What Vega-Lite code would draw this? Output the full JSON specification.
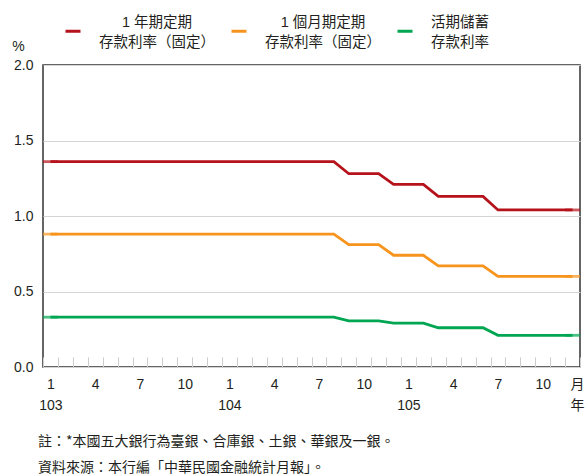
{
  "$schema": "https://vega.github.io/schema/vega-lite/v6.json",
  "width": 537,
  "height": 302,
  "autosize": "none",
  "padding": {"left": 43, "top": 65, "right": 8, "bottom": 109},
  "background": "white",
  "config": {
    "view": {"stroke": "#333333", "strokeWidth": 1.5},
    "font": "Liberation Sans, Noto Sans CJK TC"
  },
  "title": {
    "text": ["註：*本國五大銀行為臺銀、合庫銀、土銀、華銀及一銀。", "資料來源：本行編「中華民國金融統計月報」。"],
    "orient": "bottom",
    "anchor": "start",
    "frame": "group",
    "dx": -5,
    "offset": 23,
    "font": "Noto Sans CJK TC",
    "fontSize": 14,
    "fontWeight": "normal",
    "lineHeight": 26,
    "color": "#231f20"
  },
  "data": {
    "values": [
      {"m": "103/01", "a": 1.36, "b": 0.88, "c": 0.33},
      {"m": "103/02", "a": 1.36, "b": 0.88, "c": 0.33},
      {"m": "103/03", "a": 1.36, "b": 0.88, "c": 0.33},
      {"m": "103/04", "a": 1.36, "b": 0.88, "c": 0.33},
      {"m": "103/05", "a": 1.36, "b": 0.88, "c": 0.33},
      {"m": "103/06", "a": 1.36, "b": 0.88, "c": 0.33},
      {"m": "103/07", "a": 1.36, "b": 0.88, "c": 0.33},
      {"m": "103/08", "a": 1.36, "b": 0.88, "c": 0.33},
      {"m": "103/09", "a": 1.36, "b": 0.88, "c": 0.33},
      {"m": "103/10", "a": 1.36, "b": 0.88, "c": 0.33},
      {"m": "103/11", "a": 1.36, "b": 0.88, "c": 0.33},
      {"m": "103/12", "a": 1.36, "b": 0.88, "c": 0.33},
      {"m": "104/01", "a": 1.36, "b": 0.88, "c": 0.33},
      {"m": "104/02", "a": 1.36, "b": 0.88, "c": 0.33},
      {"m": "104/03", "a": 1.36, "b": 0.88, "c": 0.33},
      {"m": "104/04", "a": 1.36, "b": 0.88, "c": 0.33},
      {"m": "104/05", "a": 1.36, "b": 0.88, "c": 0.33},
      {"m": "104/06", "a": 1.36, "b": 0.88, "c": 0.33},
      {"m": "104/07", "a": 1.36, "b": 0.88, "c": 0.33},
      {"m": "104/08", "a": 1.36, "b": 0.88, "c": 0.33},
      {"m": "104/09", "a": 1.28, "b": 0.81, "c": 0.305},
      {"m": "104/10", "a": 1.28, "b": 0.81, "c": 0.305},
      {"m": "104/11", "a": 1.28, "b": 0.81, "c": 0.305},
      {"m": "104/12", "a": 1.21, "b": 0.74, "c": 0.29},
      {"m": "105/01", "a": 1.21, "b": 0.74, "c": 0.29},
      {"m": "105/02", "a": 1.21, "b": 0.74, "c": 0.29},
      {"m": "105/03", "a": 1.13, "b": 0.67, "c": 0.26},
      {"m": "105/04", "a": 1.13, "b": 0.67, "c": 0.26},
      {"m": "105/05", "a": 1.13, "b": 0.67, "c": 0.26},
      {"m": "105/06", "a": 1.13, "b": 0.67, "c": 0.26},
      {"m": "105/07", "a": 1.04, "b": 0.60, "c": 0.21},
      {"m": "105/08", "a": 1.04, "b": 0.60, "c": 0.21},
      {"m": "105/09", "a": 1.04, "b": 0.60, "c": 0.21},
      {"m": "105/10", "a": 1.04, "b": 0.60, "c": 0.21},
      {"m": "105/11", "a": 1.04, "b": 0.60, "c": 0.21},
      {"m": "105/12", "a": 1.04, "b": 0.60, "c": 0.21}
    ]
  },
  "transform": [{"fold": ["a", "b", "c"], "as": ["s", "v"]}],
  "encoding": {
    "x": {
      "field": "m",
      "type": "ordinal",
      "scale": {"type": "band", "paddingInner": 0, "paddingOuter": 0},
      "axis": {
        "tickBand": "extent",
        "tickSize": -10,
        "tickColor": "#cccccc",
        "tickWidth": 1,
        "domain": false,
        "grid": false,
        "labelAngle": 0,
        "labelOverlap": false,
        "labelPadding": 20,
        "labelFontSize": 14,
        "labelColor": "#231f20",
        "labelLineHeight": 21,
        "labelBaseline": "top",
        "labelExpr": "substring(datum.value,4)=='01' ? ['1', substring(datum.value,0,3)] : (indexof(['04','07','10'], substring(datum.value,4)) >= 0 ? '' + toNumber(substring(datum.value,4)) : '')",
        "title": ["月", "年"],
        "titleFont": "Noto Sans CJK TC",
        "titleFontSize": 14,
        "titleFontWeight": "normal",
        "titleColor": "#231f20",
        "titleX": 534,
        "titleY": 10,
        "titleAngle": 0,
        "titleAlign": "center",
        "titleBaseline": "top",
        "titleLineHeight": 21
      }
    },
    "y": {
      "field": "v",
      "type": "quantitative",
      "scale": {"domain": [0, 2]},
      "axis": {
        "values": [0, 0.5, 1, 1.5, 2],
        "format": ".1f",
        "domain": false,
        "ticks": false,
        "grid": true,
        "gridColor": "#d4d4d4",
        "gridWidth": 1,
        "labelPadding": 10,
        "labelFontSize": 14,
        "labelColor": "#231f20",
        "title": "%",
        "titleAngle": 0,
        "titleX": -25,
        "titleY": -19,
        "titleAlign": "center",
        "titleBaseline": "middle",
        "titleFontWeight": "normal",
        "titleFontSize": 14,
        "titleColor": "#231f20"
      }
    },
    "color": {
      "field": "s",
      "type": "nominal",
      "scale": {"domain": ["a", "b", "c"], "range": ["#B5121B", "#F7941D", "#00A651"]},
      "legend": {
        "orient": "none",
        "legendX": 21,
        "legendY": -43,
        "direction": "horizontal",
        "title": null,
        "gridAlign": "all",
        "symbolType": "stroke",
        "symbolStrokeWidth": 3,
        "symbolSize": 225,
        "labelFont": "Liberation Sans, Noto Sans CJK TC",
        "labelFontSize": 14.5,
        "labelColor": "#231f20",
        "labelLimit": 0,
        "labelOffset": 17,
        "labelAlign": "center",
        "columnPadding": 10,
        "labelExpr": "datum.value=='a' ? ['1 年期定期', '存款利率（固定）'] : (datum.value=='b' ? ['1 個月期定期', '存款利率（固定）'] : ['活期儲蓄', '存款利率'])",
        "encode": {
          "labels": {
            "update": {
              "dx": {"signal": "datum.value == 'c' ? 29 : 58"},
              "dy": {"value": -8},
              "lineHeight": {"value": 20}
            }
          }
        }
      }
    }
  },
  "layer": [
    {"mark": {"type": "line", "strokeWidth": 2.8}},
    {
      "transform": [{"filter": "datum.m == '103/01' || datum.m == '105/12'"}],
      "mark": {"type": "tick", "orient": "horizontal", "thickness": 2.8, "size": 15}
    }
  ]
}
